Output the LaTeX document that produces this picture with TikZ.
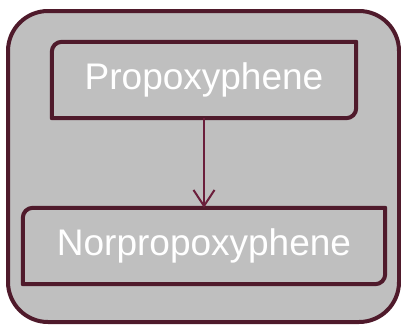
\documentclass[tikz,border=0pt]{standalone}
\usepackage{fontspec}
\setmainfont{Liberation Sans}
\usetikzlibrary{arrows.meta}
\definecolor{maroonline}{HTML}{4F1A2B}
\definecolor{maroonarrow}{HTML}{6B1E3B}
\definecolor{panelgray}{HTML}{BFBFBF}
\tikzset{
    drugbox/.style={draw=none,inner sep=0pt,text=white,font=\fontsize{37}{40}\selectfont},
    boxline/.style={draw=maroonline,line width=4pt,line join=round},
    metab/.style={draw=maroonarrow,line width=2pt,-{Straight Barb[length=16pt,width=21pt,line width=2pt]}}
}
\begin{document}
\begin{tikzpicture}[x=1pt,y=-1pt]
    \useasboundingbox (0,0) rectangle (401,324);
    \draw[boxline,fill=panelgray,rounded corners=40pt] (8,11) rectangle (399,322);
    \node[drugbox,minimum width=304pt,minimum height=76pt] (prop) at (204,80) {Propoxyphene};
    \node[drugbox,minimum width=362pt,minimum height=76pt] (norprop) at (204,246) {Norpropoxyphene};
    \foreach \n in {prop,norprop}
        \draw[boxline] (\n.north) [rounded corners=10pt] -- (\n.north west) [sharp corners] -- (\n.south west) [rounded corners=10pt] -- (\n.south east) [sharp corners] -- (\n.north east) -- cycle;
    \draw[metab] (prop.south) -- (norprop.north);
\end{tikzpicture}
\end{document}
